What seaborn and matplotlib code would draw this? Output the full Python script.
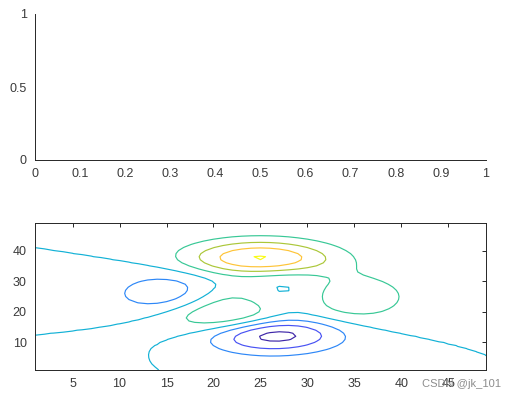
import matplotlib
matplotlib.use("Agg")
import matplotlib.pyplot as plt
import numpy as np
import seaborn as sns
from matplotlib.colors import LinearSegmentedColormap

# ── Data ──────────────────────────────────────────────────────────────────────
# MATLAB peaks(49): the surface drawn by contour(peaks) in the lower panel
GRID_N = 49
GRID_SPAN = [-3.0, 3.0]
CONTOUR_LEVELS = [-6, -4, -2, 0, 2, 4, 6, 8]

TOP_XTICKS = [0, 0.1, 0.2, 0.3, 0.4, 0.5, 0.6, 0.7, 0.8, 0.9, 1]
TOP_XLABELS = ["0", "0.1", "0.2", "0.3", "0.4", "0.5", "0.6", "0.7", "0.8", "0.9", "1"]
TOP_YTICKS = [0, 0.5, 1]
TOP_YLABELS = ["0", "0.5", "1"]
BOT_XTICKS = [5, 10, 15, 20, 25, 30, 35, 40, 45]
BOT_YTICKS = [10, 20, 30, 40]
WATERMARK = "CSDN @jk_101"


def peaks(n):
    t = np.linspace(GRID_SPAN[0], GRID_SPAN[1], n)
    x, y = np.meshgrid(t, t)
    return (3 * (1 - x) ** 2 * np.exp(-(x ** 2) - (y + 1) ** 2)
            - 10 * (x / 5 - x ** 3 - y ** 5) * np.exp(-x ** 2 - y ** 2)
            - 1 / 3 * np.exp(-(x + 1) ** 2 - y ** 2))


# ── Style ─────────────────────────────────────────────────────────────────────
sns.set_theme(style="white")
plt.rcParams["font.family"] = ["Liberation Sans", "DejaVu Sans"]

INK = "#262626"
LABEL = "#3a3a3a"
# parula(8)
parula = LinearSegmentedColormap.from_list("parula", [
    (0.2422, 0.1504, 0.6603),
    (0.2810, 0.3228, 0.9579),
    (0.1786, 0.5289, 0.9682),
    (0.0689, 0.6948, 0.8394),
    (0.2161, 0.7843, 0.5923),
    (0.6720, 0.7793, 0.2227),
    (0.9970, 0.7659, 0.2199),
    (0.9769, 0.9839, 0.0805),
])


def style_axes(ax, box):
    for side in ["top", "right"]:
        ax.spines[side].set_visible(box)
    for sp in ax.spines.values():
        sp.set_color(INK)
        sp.set_linewidth(0.7)
    ax.tick_params(direction="in", length=3, width=0.7, color=INK,
                   labelsize=9, labelcolor=LABEL, pad=6,
                   top=box, right=box)


fig = plt.figure(figsize=(5.16, 4.0), dpi=100)

# upper panel: empty axes
ax1 = fig.add_axes([0.0678, 0.600, 0.8740, 0.365])
ax1.set_xlim(0, 1)
ax1.set_ylim(0, 1)
ax1.set_xticks(TOP_XTICKS, TOP_XLABELS)
ax1.set_yticks(TOP_YTICKS, TOP_YLABELS)
style_axes(ax1, box=False)

# lower panel: contour of peaks
z = peaks(GRID_N)
cols = np.arange(1, GRID_N + 1)
ax2 = fig.add_axes([0.0678, 0.075, 0.8740, 0.3675])
ax2.contour(cols, cols, z, levels=CONTOUR_LEVELS, cmap=parula,
            vmin=CONTOUR_LEVELS[0], vmax=CONTOUR_LEVELS[-1], linewidths=0.85)
ax2.set_xlim(1, GRID_N)
ax2.set_ylim(1, GRID_N)
ax2.set_xticks(BOT_XTICKS)
ax2.set_yticks(BOT_YTICKS)
style_axes(ax2, box=True)

fig.text(0.818, 0.040, WATERMARK, fontsize=8, color="#8c8c8c", va="center")

fig.savefig("out.png", dpi=100)
